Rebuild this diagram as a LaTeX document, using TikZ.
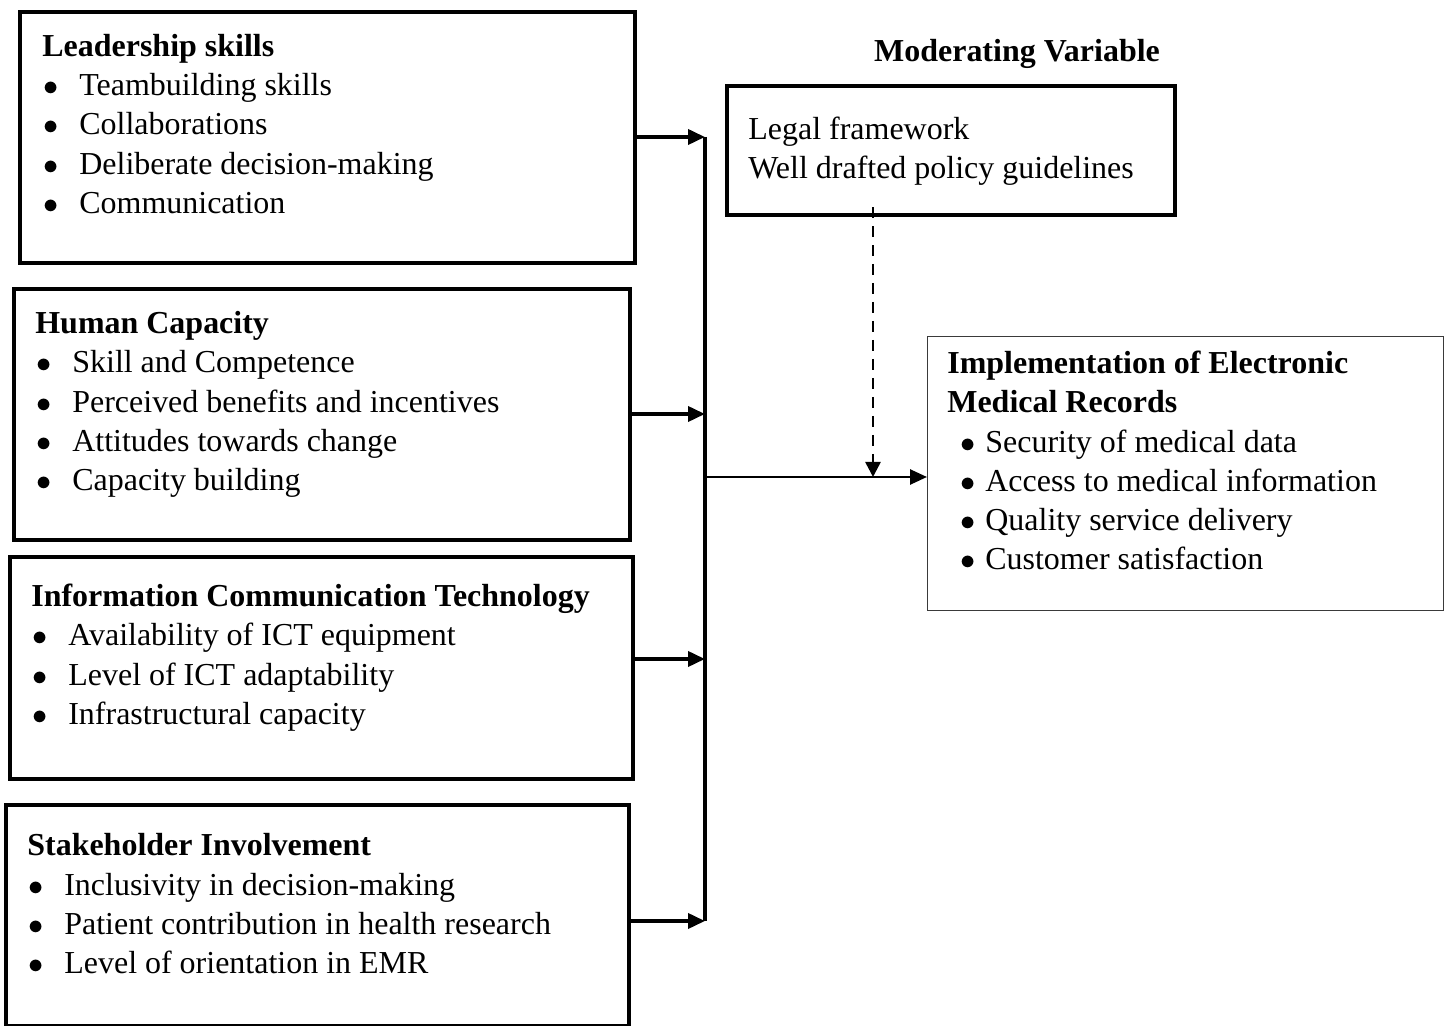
\documentclass[tikz,border=0pt]{standalone}
\usepackage{fontspec}
\setmainfont{Liberation Serif}
\usetikzlibrary{arrows.meta}
\definecolor{emrline}{HTML}{3A3A3A}
\newcommand{\emrItem}[1]{\\\hspace*{0.02cm}\makebox[0.72cm][l]{$\bullet$}#1}
\newcommand{\outItem}[1]{\\\hspace*{0.26cm}\makebox[0.5cm][l]{$\bullet$}#1}
\tikzset{
  varBox/.style={draw, line width=2.3pt, anchor=north west, inner sep=0pt},
  outBox/.style={draw=emrline, line width=0.8pt, anchor=north west, inner sep=0pt},
  varText/.style={anchor=base west, inner sep=0pt, text width=11.6cm, align=flush left,
    font=\fontsize{18.2}{22.2}\selectfont},
  feedArrow/.style={-{Triangle[length=0.34cm,width=0.3cm]}, line width=2.1pt},
  busLine/.style={line width=2.1pt},
  outArrow/.style={-{Triangle[length=0.34cm,width=0.3cm]}, line width=1.5pt},
  modArrow/.style={-{Triangle[length=0.3cm,width=0.3cm]}, line width=1.5pt,
    dash pattern=on 0.22cm off 0.16cm}
}
\begin{document}
\begin{tikzpicture}[x=0.02cm, y=-0.02cm]
  \useasboundingbox (0,0) rectangle (1445,1026);
  % independent variables
  \node[varBox, minimum width=12.3cm, minimum height=5.02cm] (lead) at (18,10) {};
  \node[varBox, minimum width=12.32cm, minimum height=5.02cm] (human) at (12,287) {};
  \node[varBox, minimum width=12.46cm, minimum height=4.44cm] (ict) at (8,555) {};
  \node[varBox, minimum width=12.46cm, minimum height=4.42cm] (stake) at (4,803) {};
  \node[varText] (leadText) at (42,57) {\textbf{Leadership skills}
    \emrItem{Teambuilding skills}
    \emrItem{Collaborations}
    \emrItem{Deliberate decision-making}
    \emrItem{Communication}};
  \node[varText] (humanText) at (35,334) {\textbf{Human Capacity}
    \emrItem{Skill and Competence}
    \emrItem{Perceived benefits and incentives}
    \emrItem{Attitudes towards change}
    \emrItem{Capacity building}};
  \node[varText] (ictText) at (31,607) {\textbf{Information Communication Technology}
    \emrItem{Availability of ICT equipment}
    \emrItem{Level of ICT adaptability}
    \emrItem{Infrastructural capacity}};
  \node[varText] (stakeText) at (27,856) {\textbf{Stakeholder Involvement}
    \emrItem{Inclusivity in decision-making}
    \emrItem{Patient contribution in health research}
    \emrItem{Level of orientation in EMR}};
  % moderating variable
  \node[varText, anchor=base, text width=, align=center] (modTitle) at (1017,62) {\textbf{Moderating Variable}};
  \node[varBox, minimum width=8.96cm, minimum height=2.58cm] (mod) at (725,84) {};
  \node[varText, text width=8.4cm] (modText) at (748,140) {Legal framework\\Well drafted policy guidelines};
  % dependent variable
  \node[outBox, minimum width=10.32cm, minimum height=5.48cm] (emr) at (927,336) {};
  \node[varText, text width=9.8cm] (emrText) at (947,374) {\textbf{Implementation of Electronic}\\\textbf{Medical Records}
    \outItem{Security of medical data}
    \outItem{Access to medical information}
    \outItem{Quality service delivery}
    \outItem{Customer satisfaction}};
  % connectors
  \coordinate (joinLead) at (705,137);
  \coordinate (joinHuman) at (705,414);
  \coordinate (joinIct) at (705,659);
  \coordinate (joinStake) at (705,921);
  \coordinate (joinOut) at (705,477);
  \coordinate (modDrop) at (873,477);
  \draw[busLine] (joinLead) -- (joinStake);
  \draw[feedArrow] (lead.east |- joinLead) -- (joinLead);
  \draw[feedArrow] (human.east |- joinHuman) -- (joinHuman);
  \draw[feedArrow] (ict.east |- joinIct) -- (joinIct);
  \draw[feedArrow] (stake.east |- joinStake) -- (joinStake);
  \draw[outArrow] (joinOut) -- (emr.west |- joinOut);
  \draw[modArrow] ([yshift=0.2cm]mod.south -| modDrop) -- (modDrop);
\end{tikzpicture}
\end{document}
